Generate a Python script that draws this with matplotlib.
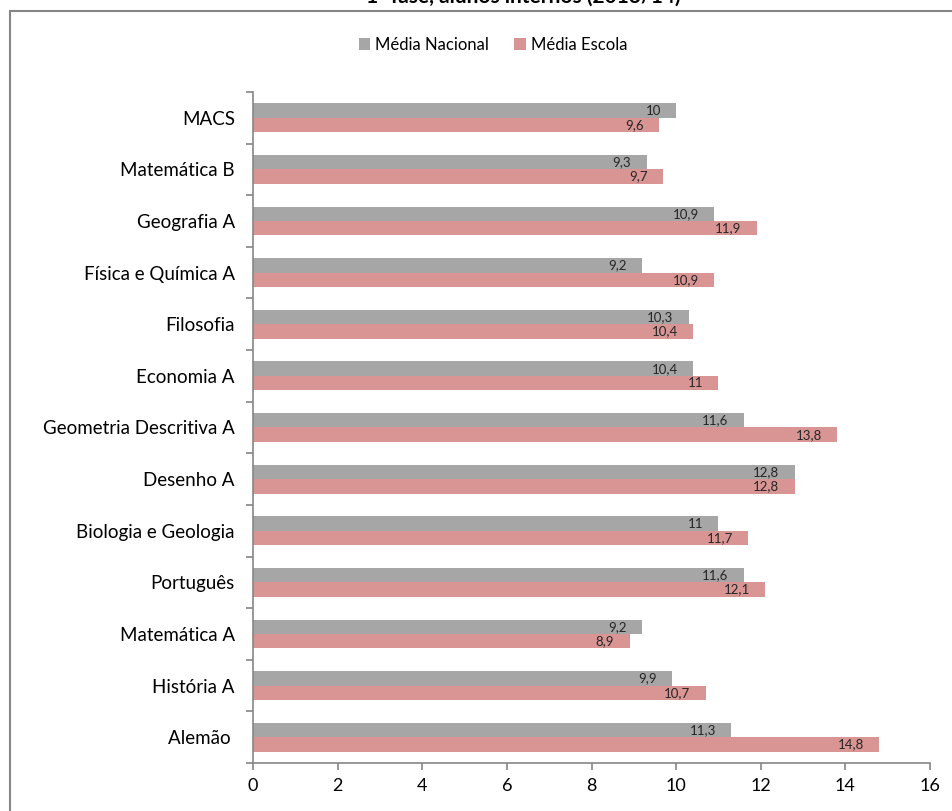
import matplotlib.pyplot as plt
import numpy as np
from matplotlib.patches import Rectangle

plt.rcParams['font.family'] = ['Lato', 'DejaVu Sans']

# Data, listed top to bottom as in the chart
disciplinas = ['MACS', 'Matemática B', 'Geografia A', 'Física e Química A',
               'Filosofia', 'Economia A', 'Geometria Descritiva A', 'Desenho A',
               'Biologia e Geologia', 'Português', 'Matemática A', 'História A',
               'Alemão ']
media_nacional = [10, 9.3, 10.9, 9.2, 10.3, 10.4, 11.6, 12.8, 11, 11.6, 9.2, 9.9, 11.3]
media_escola = [9.6, 9.7, 11.9, 10.9, 10.4, 11, 13.8, 12.8, 11.7, 12.1, 8.9, 10.7, 14.8]

cor_nac = '#A6A6A6'
cor_esc = '#D99594'
cor_eixo = '#868686'

fig = plt.figure(figsize=(9.53, 8.11), dpi=100)
W, H = 953, 811
ax = fig.add_axes([253 / W, 48 / H, (930 - 253) / W, (763 - 92) / H])

n = len(disciplinas)
y = np.arange(n)[::-1]  # first item at the top
h = 0.28

b1 = ax.barh(y + h / 2, media_nacional, height=h, color=cor_nac, label='Média Nacional')
b2 = ax.barh(y - h / 2, media_escola, height=h, color=cor_esc, label='Média Escola')

def fmt(v):
    return f'{v:g}'.replace('.', ',')

for bars, vals in [(b1, media_nacional), (b2, media_escola)]:
    for bar, v in zip(bars, vals):
        ax.annotate(fmt(v), (v, bar.get_y() + bar.get_height() / 2),
                    xytext=(-11, 0), textcoords='offset points',
                    ha='right', va='center', fontsize=9.5, color='#262626')

ax.set_xlim(0, 16)
ax.set_ylim(-0.5, n - 0.5)
ax.set_xticks(range(0, 17, 2))
ax.set_yticks(y)
ax.set_yticklabels(disciplinas)
ax.set_yticks(np.arange(-0.5, n, 1), minor=True)
ax.tick_params(axis='y', which='major', length=0, pad=13, labelsize=13.5)
ax.tick_params(axis='y', which='minor', length=5, color=cor_eixo, width=1.2)
ax.tick_params(axis='x', length=5, color=cor_eixo, width=1.2, labelsize=13, pad=6)

for s in ['top', 'right']:
    ax.spines[s].set_visible(False)
for s in ['left', 'bottom']:
    ax.spines[s].set_color(cor_eixo)
    ax.spines[s].set_linewidth(1.2)

leg = fig.legend(handles=[b1, b2], loc='center', bbox_to_anchor=(493 / W, 1 - 45 / H),
                 ncol=2, frameon=False, fontsize=12, handlelength=0.7, handleheight=0.7,
                 columnspacing=1.5, handletextpad=0.3)

# chart frame (extends past the right and bottom edges)
fig.patches.append(Rectangle((10 / W, -0.1), 1.2, 1 - 11 / H + 0.1,
                             transform=fig.transFigure, fill=False,
                             edgecolor=cor_eixo, linewidth=1.5))

# title, mostly cropped off at the top
fig.text(523 / W, 1 - 3 / H, '1ª fase, alunos internos (2013/14)', ha='center',
         va='baseline', fontsize=15, fontweight='bold')

fig.savefig('out.png', dpi=100)
